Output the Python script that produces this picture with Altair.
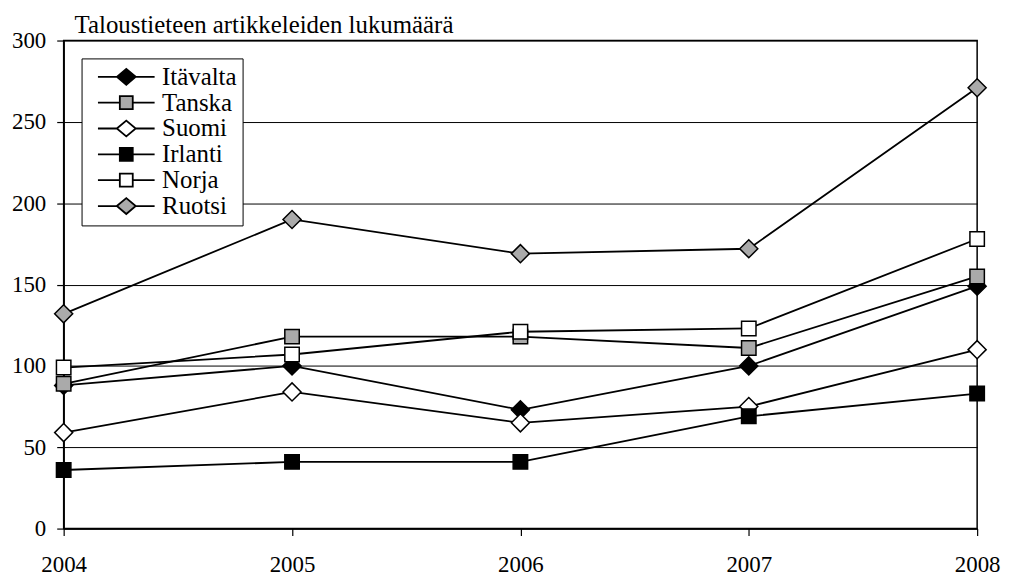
import altair as alt
import pandas as pd

years = [2004, 2005, 2006, 2007, 2008]
series = ["Itävalta", "Tanska", "Suomi", "Irlanti", "Norja", "Ruotsi"]
itavalta = [88, 100, 73, 100, 149]
tanska = [89, 118, 118, 111, 155]
suomi = [59, 84, 65, 75, 110]
irlanti = [36, 41, 41, 69, 83]
norja = [99, 107, 121, 123, 178]
ruotsi = [132, 190, 169, 172, 271]
y_ticks = [0, 50, 100, 150, 200, 250, 300]
title_text = "Taloustieteen artikkeleiden lukumäärä"

values = [itavalta, tanska, suomi, irlanti, norja, ruotsi]
rows = []
for s, vals in zip(series, values):
    for yr, v in zip(years, vals):
        rows.append({"series": s, "year": yr, "value": v})
df = pd.DataFrame(rows)

FONT = "Liberation Serif"
GRAY = "#aaaaaa"
fills = ["black", GRAY, "white", "black", "white", GRAY]
strokes = ["black"] * 6

diamond = "M-1,0L0,-1L1,0L0,1Z"
square = "M-0.8,-0.8L0.8,-0.8L0.8,0.8L-0.8,0.8Z"
plot_shapes = [diamond, square, diamond, square, square, diamond]

leg_diamond = "M-2.85,0L-0.95,0M0.95,0L2.85,0M-0.95,0L0,-0.8L0.95,0L0,0.8Z"
leg_square = "M-2.85,0L-0.65,0M0.65,0L2.85,0M-0.65,-0.65L0.65,-0.65L0.65,0.65L-0.65,0.65Z"
leg_shapes = [leg_diamond, leg_square, leg_diamond, leg_square, leg_square, leg_diamond]

x_enc = alt.X("year:Q", scale=alt.Scale(domain=[2004, 2008], nice=False),
              axis=alt.Axis(values=years, format="d", grid=False, title=None,
                            labelPadding=18, tickSize=7, labelFlush=False))
y_enc = alt.Y("value:Q", scale=alt.Scale(domain=[0, 300], nice=False),
              axis=alt.Axis(values=y_ticks, grid=True, title=None,
                            labelPadding=11, tickSize=7))

base = alt.Chart(df)

lines = base.mark_line(color="black", strokeWidth=1.8).encode(
    x=x_enc, y=y_enc, detail="series:N"
)

points = base.mark_point(filled=True, size=330, stroke="black", strokeWidth=1.5, opacity=1).encode(
    x="year:Q", y="value:Q",
    shape=alt.Shape("series:N", scale=alt.Scale(domain=series, range=plot_shapes), legend=None),
    fill=alt.Fill("series:N", scale=alt.Scale(domain=series, range=fills), legend=None),
)

def leg():
    return alt.Legend(title=None, orient="none", legendX=18, legendY=18,
                      symbolSize=400, symbolStrokeWidth=1.8,
                      symbolOpacity=1, symbolOffset=26.5, labelOffset=23.5,
                      labelFont=FONT, labelFontSize=25, labelColor="black",
                      strokeColor="black", fillColor="white", padding=6, rowPadding=0)

legend_layer = base.transform_filter("datum.value < 0").mark_point(
    filled=True, size=400, strokeWidth=1.8, opacity=1
).encode(
    x="year:Q", y="value:Q",
    shape=alt.Shape("series:N", scale=alt.Scale(domain=series, range=leg_shapes), legend=leg()),
    fill=alt.Fill("series:N", scale=alt.Scale(domain=series, range=fills), legend=leg()),
    stroke=alt.Stroke("series:N", scale=alt.Scale(domain=series, range=strokes), legend=leg()),
)

chart = alt.layer(lines, points, legend_layer).resolve_scale(
    shape="independent", fill="independent", stroke="independent"
).properties(
    width=919, height=491,
    title=alt.TitleParams(title_text, anchor="start", frame="group", font=FONT, fontSize=25,
                          fontWeight="normal", color="black", offset=-8, dx=11),
    autosize=alt.AutoSizeParams(type="none"),
    padding={"left": 56, "top": 31, "right": 24, "bottom": 50},
).configure(
    font=FONT
).configure_view(
    stroke="black", strokeWidth=1.5
).configure_axis(
    labelFont=FONT, labelFontSize=23, labelColor="black",
    domainColor="black", domainWidth=1.5,
    tickColor="black", tickWidth=1.2,
    gridColor="black", gridWidth=1, gridOpacity=1,
).configure_legend(
    labelFont=FONT, labelFontSize=25, labelColor="black",
    cornerRadius=0,
)

chart.save("out.html", embed_options={"renderer": "svg", "actions": False})
